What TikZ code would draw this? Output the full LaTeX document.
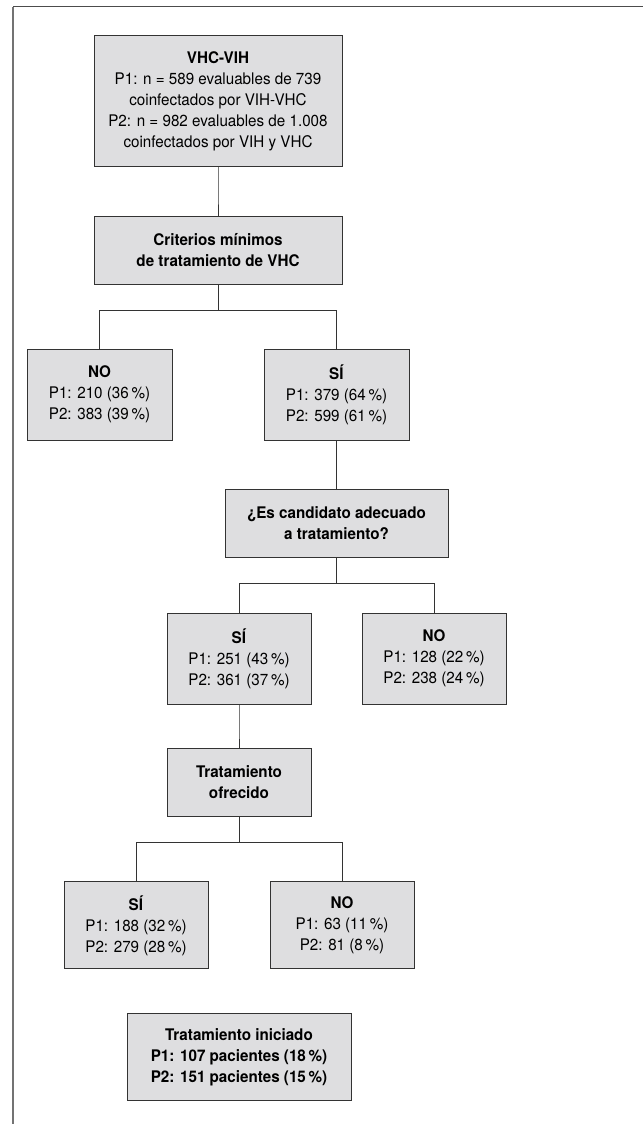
\documentclass[tikz,border=0pt]{standalone}
\usepackage{fontspec}
\setmainfont[FakeStretch=0.95]{TeX Gyre Heros}
\usetikzlibrary{positioning}
\definecolor{boxfill}{HTML}{DEDEE0}
\definecolor{boxline}{HTML}{333333}
\newcommand{\resultnode}[3]{\textbf{#1}\\P1: #2\\P2: #3}

\begin{document}
\begin{tikzpicture}[font=\fontsize{12pt}{15.75pt}\selectfont]

\tikzstyle{box}=[draw=boxline,fill=boxfill,line width=0.75pt,align=center,inner sep=0pt,minimum width=108pt]
\tikzstyle{every child}=[draw=boxline,line width=0.75pt]
\tikzstyle{edge from parent}=[draw]
\tikzstyle{level 1}=[level distance=111.4pt]
\tikzstyle{level 2}=[level distance=108.4pt,sibling distance=177.75pt]
\tikzstyle{level 3}=[level distance=96.4pt]
\tikzstyle{level 4}=[level distance=101.6pt,sibling distance=146.25pt]
\tikzstyle{level 5}=[level distance=92.6pt]
\tikzstyle{level 6}=[level distance=107.6pt,sibling distance=77.25pt]

\useasboundingbox (0,0) rectangle (482.25pt,-843pt);
% marco
\draw[draw=black!55,line width=1.5pt] (9.75pt,-843pt) -- (9.75pt,-5.25pt);
\draw[draw=black!70,line width=0.75pt] (9.75pt,-5.25pt) -- (482.25pt,-5.25pt);

\node[box,minimum width=186pt,minimum height=98.25pt](vhc) at (163.5pt,-76.1pt)
  {\textbf{VHC-VIH}\\P1: n = 589 evaluables de 739\\coinfectados por VIH-VHC\\
   P2: n = 982 evaluables de 1.008\\coinfectados por VIH y VHC}
  [edge from parent path={(\tikzparentnode.south) -- +(0,-19.5pt) -| (\tikzchildnode.north)}]
  child{node[box,minimum width=186pt,minimum height=51pt](crit){\textbf{Criterios mínimos}\\\textbf{de tratamiento de VHC}}
    child{node[box,minimum width=108.75pt,minimum height=68.25pt](no1){\resultnode{NO}{210 (36\,\%)}{383 (39\,\%)}}}
    child{node[box,minimum width=108.75pt,minimum height=68.25pt](si1){\resultnode{SÍ}{379 (64\,\%)}{599 (61\,\%)}}
      child{node[box,minimum width=167.25pt,minimum height=51pt](cand){\textbf{¿Es candidato adecuado}\\\textbf{a tratamiento?}}
        child{node[box,minimum height=68.25pt](si2){\resultnode{SÍ}{251 (43\,\%)}{361 (37\,\%)}}
          child{node[box,minimum height=51pt](ofre){\textbf{Tratamiento}\\\textbf{ofrecido}}
            child{node[box,minimum height=65.25pt](si3){\resultnode{SÍ}{188 (32\,\%)}{279 (28\,\%)}}}
            child[level distance=206.6pt]{node[box,minimum width=168pt,minimum height=65.25pt](inic)
              {\textbf{Tratamiento iniciado}\\\textbf{P1: 107 pacientes (18\,\%)}\\\textbf{P2: 151 pacientes (15\,\%)}}
              edge from parent[draw=none]}
            child{node[box,minimum height=65.25pt](no3){\resultnode{NO}{63 (11\,\%)}{81 (8\,\%)}}}
          }
        }
        child{node[box,minimum height=68.25pt](no2){\resultnode{NO}{128 (22\,\%)}{238 (24\,\%)}}}
      }
    }
  };

\end{tikzpicture}
\end{document}
